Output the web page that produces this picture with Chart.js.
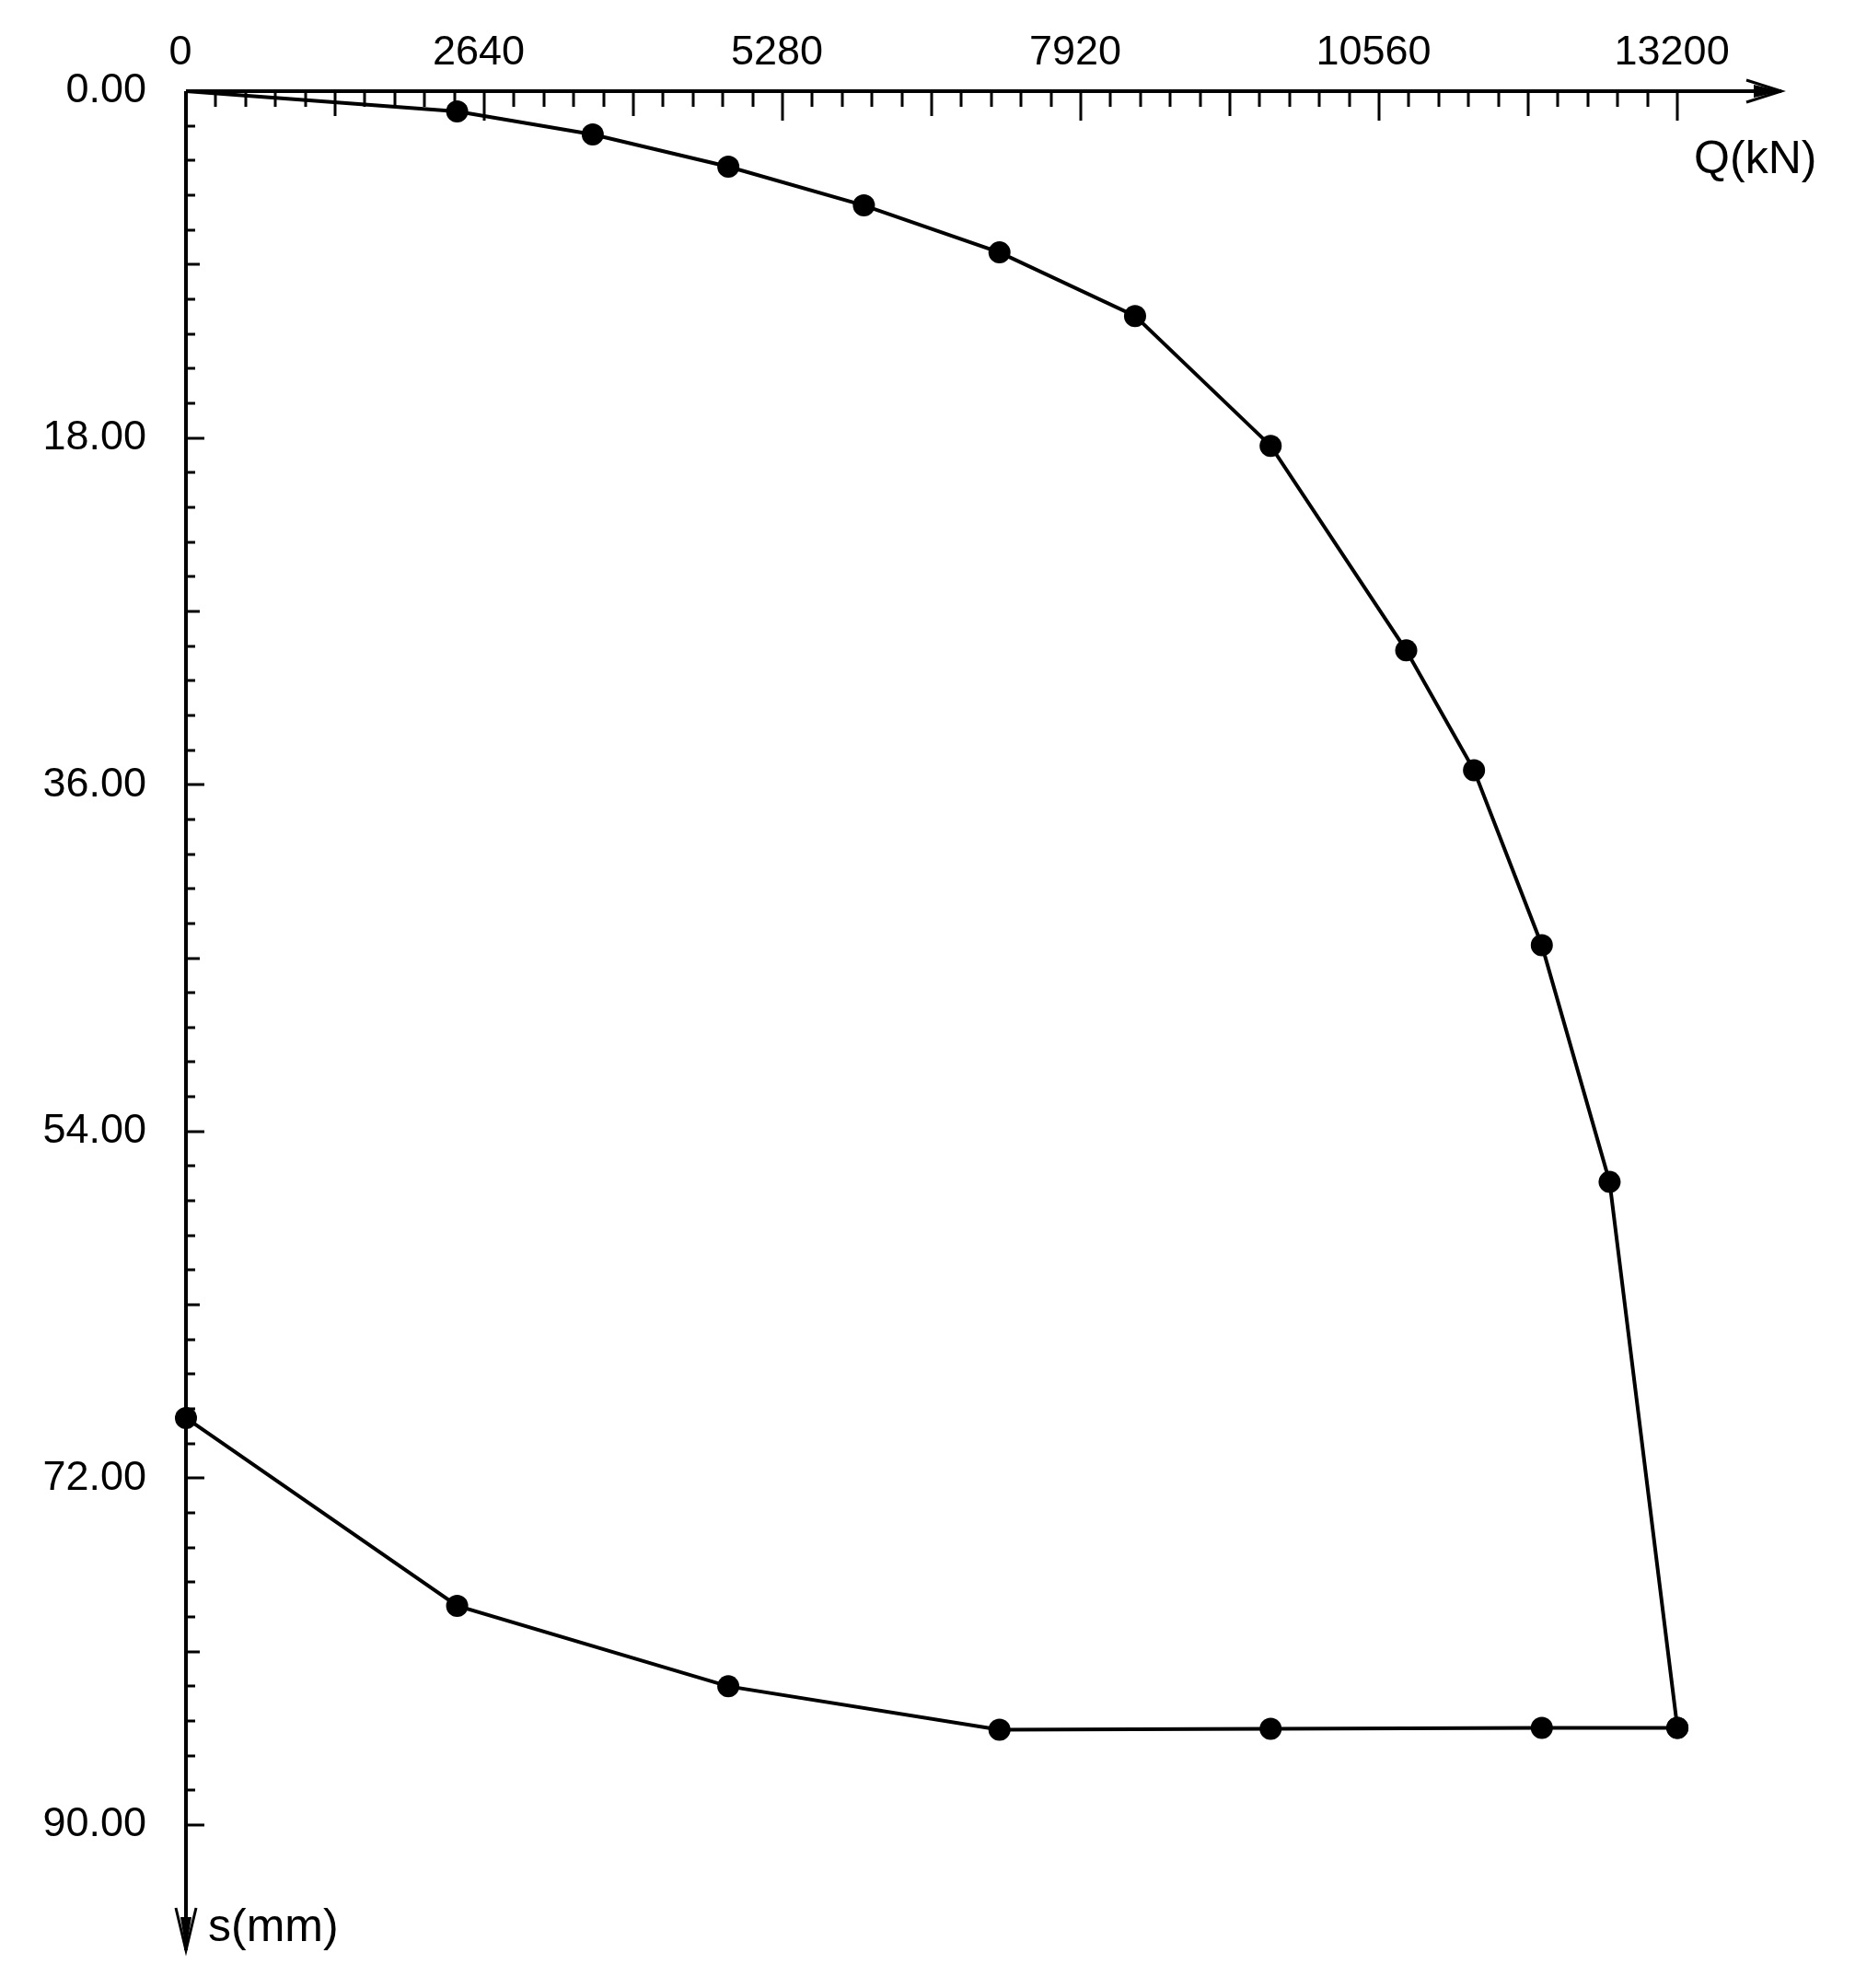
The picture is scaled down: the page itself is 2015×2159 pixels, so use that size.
<!DOCTYPE html>
<html>
<head>
<meta charset="utf-8">
<title>Q-s curve</title>
<script src="https://cdn.jsdelivr.net/npm/chart.js@4.4.1/dist/chart.umd.min.js"></script>
<style>
    html, body { margin: 0; padding: 0; background: #fff; }
    #qs-chart { display: block; }
</style>
</head>
<body>
<canvas id="qs-chart" width="2015" height="2159"></canvas>
<script>
// Load test readings: load Q (kN) and settlement s (mm)
const loadSteps = [0, 2400, 3600, 4800, 6000, 7200, 8400, 9600, 10800, 11400, 12000, 12600, 13200];
const loadSettlement = [0, 1.05, 2.25, 3.92, 5.93, 8.37, 11.67, 18.41, 29.03, 35.25, 44.33, 56.62, 84.96];
const unloadSteps = [13200, 12000, 9600, 7200, 4800, 2400, 0];
const unloadSettlement = [84.96, 84.96, 85.0, 85.05, 82.8, 78.62, 68.87];

// Axis tick labels
const qTicks = [0, 2640, 5280, 7920, 10560, 13200];
const sTicks = [0, 18, 36, 54, 72, 90];

const FONT = 'Liberation Sans';

// Draw arrowed axes, inward tick marks and axis titles
const axesDecor = {
    id: 'axesDecor',
    beforeDatasetsDraw(chart) {
        const ctx = chart.ctx;
        const xs = chart.scales.x;
        const ys = chart.scales.y;
        const x0 = xs.getPixelForValue(0);
        const y0 = ys.getPixelForValue(0);
        const xEnd = xs.right;
        const yEnd = ys.bottom;

        ctx.save();
        ctx.strokeStyle = '#000';
        ctx.fillStyle = '#000';
        ctx.lineCap = 'butt';

        // axis lines
        ctx.lineWidth = 4;
        ctx.beginPath();
        ctx.moveTo(x0, y0);
        ctx.lineTo(xEnd, y0);
        ctx.moveTo(x0, y0);
        ctx.lineTo(x0, yEnd);
        ctx.stroke();

        // x ticks (10 minor steps per label, half step a bit longer)
        const qStep = qTicks[1] / 10;
        const qMax = qTicks[qTicks.length - 1];
        ctx.lineWidth = 3;
        ctx.beginPath();
        for (let i = 1; i * qStep <= qMax + 1e-6; i++) {
            const px = Math.round(xs.getPixelForValue(i * qStep));
            const len = i % 10 === 0 ? 32 : (i % 5 === 0 ? 27 : 17);
            ctx.moveTo(px, y0);
            ctx.lineTo(px, y0 + len);
        }
        // y ticks
        const sStep = sTicks[1] / 10;
        const sMax = sTicks[sTicks.length - 1];
        for (let i = 1; i * sStep <= sMax + 1e-6; i++) {
            const py = Math.round(ys.getPixelForValue(i * sStep));
            const len = i % 10 === 0 ? 20 : (i % 5 === 0 ? 15 : 10);
            ctx.moveTo(x0, py);
            ctx.lineTo(x0 + len, py);
        }
        ctx.stroke();

        // arrow heads
        ctx.lineWidth = 3;
        ctx.beginPath();
        ctx.moveTo(xEnd - 38, y0 - 12);
        ctx.lineTo(xEnd, y0);
        ctx.lineTo(xEnd - 38, y0 + 12);
        ctx.moveTo(x0 - 11, yEnd - 46);
        ctx.lineTo(x0, yEnd);
        ctx.lineTo(x0 + 11, yEnd - 46);
        ctx.stroke();
        ctx.beginPath();
        ctx.moveTo(xEnd, y0);
        ctx.lineTo(xEnd - 30, y0 - 7);
        ctx.lineTo(xEnd - 30, y0 + 7);
        ctx.closePath();
        ctx.moveTo(x0, yEnd);
        ctx.lineTo(x0 - 6, yEnd - 36);
        ctx.lineTo(x0 + 6, yEnd - 36);
        ctx.closePath();
        ctx.fill();

        // axis titles
        ctx.font = '50px "' + FONT + '"';
        ctx.textBaseline = 'middle';
        ctx.textAlign = 'left';
        ctx.fillText('Q(kN)', xs.getPixelForValue(qMax) + 18, y0 + 75);
        ctx.fillText('s(mm)', x0 + 24, yEnd - 24);
        ctx.restore();
    }
};

function makePoints(qs, ss) {
    return qs.map((q, i) => ({ x: q, y: ss[i] }));
}

const lineStyle = {
    showLine: true,
    borderColor: '#000',
    backgroundColor: '#000',
    borderWidth: 4,
    // no marker on the starting origin point
    pointRadius: (c) => (c.datasetIndex === 0 && c.dataIndex === 0 ? 0 : 12),
    pointHoverRadius: 12,
    pointBorderWidth: 0,
    tension: 0,
    clip: false
};

const ctx = document.getElementById('qs-chart').getContext('2d');
window.qsChart = new Chart(ctx, {
    type: 'scatter',
    data: {
        datasets: [
            Object.assign({ label: 'loading', data: makePoints(loadSteps, loadSettlement) }, lineStyle),
            Object.assign({ label: 'unloading', data: makePoints(unloadSteps, unloadSettlement) }, lineStyle)
        ]
    },
    options: {
        responsive: false,
        animation: false,
        devicePixelRatio: 1,
        layout: { padding: { left: 0, top: 0, right: 80, bottom: 41 } },
        plugins: {
            legend: { display: false },
            tooltip: { enabled: false }
        },
        scales: {
            x: {
                type: 'linear',
                position: 'top',
                min: 0,
                max: 14120,
                afterBuildTicks: (scale) => { scale.ticks = qTicks.map(v => ({ value: v })); },
                afterFit: (scale) => {
                    scale.height = 99;
                    scale.paddingLeft = 0;
                    scale.paddingRight = 0;
                },
                grid: { display: false, drawTicks: false },
                border: { display: false },
                ticks: {
                    autoSkip: false,
                    maxRotation: 0,
                    padding: 14,
                    labelOffset: -6,
                    color: '#000',
                    font: { family: FONT, size: 45 },
                    callback: (v) => String(v)
                }
            },
            y: {
                type: 'linear',
                position: 'left',
                reverse: true,
                min: 0,
                max: 96.5,
                afterBuildTicks: (scale) => { scale.ticks = sTicks.map(v => ({ value: v })); },
                afterFit: (scale) => {
                    scale.width = 202;
                    scale.paddingTop = 0;
                    scale.paddingBottom = 0;
                },
                grid: { display: false, drawTicks: false },
                border: { display: false },
                ticks: {
                    autoSkip: false,
                    padding: 43,
                    color: '#000',
                    font: { family: FONT, size: 45 },
                    callback: (v) => v.toFixed(2)
                }
            }
        }
    },
    plugins: [axesDecor]
});
</script>
</body>
</html>
